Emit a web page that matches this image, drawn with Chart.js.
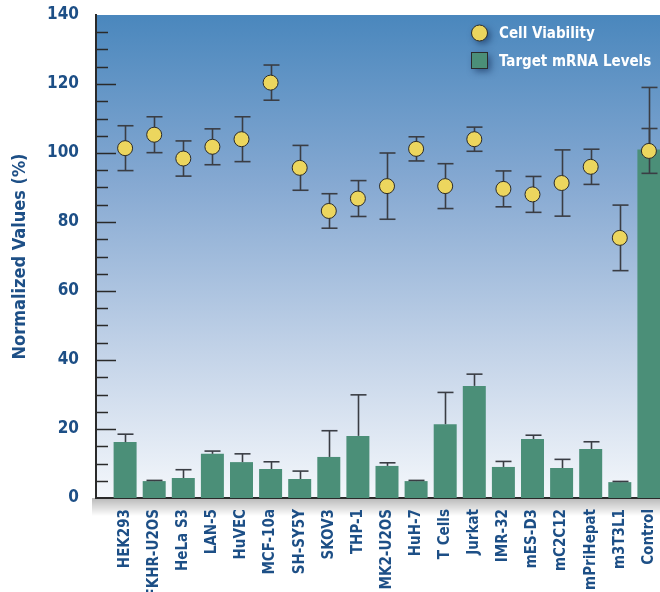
<!DOCTYPE html>
<html>
<head>
<meta charset="utf-8">
<script src="https://cdn.jsdelivr.net/npm/chart.js@4.4.1/dist/chart.umd.min.js"></script>
<style>
  html, body { margin: 0; padding: 0; background: #fff; }
  #wrap { width: 660px; height: 592px; overflow: hidden; position: relative; }
  canvas { display: block; }
</style>
</head>
<body>
<div id="wrap"><canvas id="cellChart" width="690" height="592"></canvas></div>
<script>
const categories = [
  'HEK293', 'FKHR-U2OS', 'HeLa S3', 'LAN-5', 'HuVEC', 'MCF-10a', 'SH-SY5Y',
  'SKOV3', 'THP-1', 'MK2-U2OS', 'HuH-7', 'T Cells', 'Jurkat', 'IMR-32',
  'mES-D3', 'mC2C12', 'mPriHepat', 'm3T3L1', 'Control'
];
const cellViability = [101.4, 105.3, 98.4, 101.8, 104.0, 120.4, 95.7, 83.2, 86.8, 90.4,
  101.2, 90.4, 104.0, 89.6, 88.0, 91.3, 96.0, 75.4, 100.6];
const viabilityError = [6.5, 5.2, 5.1, 5.2, 6.5, 5.1, 6.5, 5.0, 5.2, 9.6,
  3.5, 6.5, 3.5, 5.2, 5.2, 9.6, 5.1, 9.5, 6.5];
const mrnaLevels = [16.2, 4.9, 5.8, 12.8, 10.4, 8.4, 5.5, 11.9, 18.0, 9.3,
  4.9, 21.4, 32.5, 9.0, 17.1, 8.7, 14.2, 4.6, 101];
const mrnaError = [2.3, 0.2, 2.4, 0.8, 2.4, 2.1, 2.3, 7.6, 11.9, 0.9,
  0.2, 9.2, 3.4, 1.6, 1.1, 2.5, 2.1, 0.2, 18];
const yTicks = [0, 20, 40, 60, 80, 100, 120, 140];

const FONT = '"Liberation Sans Narrow", "DejaVu Sans Condensed", "Roboto", sans-serif';
const BLUE = '#1d4f86';

// blank slot at each end so the categories sit where the original puts them
const labels = [''].concat(categories, ['']);
const pad = arr => [null].concat(arr, [null]);

const backdrop = {
  id: 'backdrop',
  beforeDraw(chart) {
    const { ctx, chartArea: a } = chart;
    const g = ctx.createLinearGradient(0, a.top, 0, a.bottom);
    g.addColorStop(0, '#4a87bd');
    g.addColorStop(0.35, '#86a9d2');
    g.addColorStop(0.7, '#c3d3e8');
    g.addColorStop(1, '#f4f7fb');
    ctx.save();
    ctx.fillStyle = g;
    ctx.fillRect(a.left, a.top, a.right - a.left, a.bottom - a.top);
    // soft shadow under the x axis
    const s = ctx.createLinearGradient(0, a.bottom, 0, a.bottom + 18);
    s.addColorStop(0, 'rgba(0,0,0,0.28)');
    s.addColorStop(1, 'rgba(0,0,0,0)');
    ctx.fillStyle = s;
    ctx.fillRect(a.left - 4, a.bottom, a.right - a.left + 4, 18);
    ctx.restore();
  },
  afterDraw(chart) {
    const { ctx, chartArea: a } = chart;
    const y = chart.scales.y;
    ctx.save();
    ctx.strokeStyle = '#2a2a2a';
    ctx.lineWidth = 1.5;
    for (let v = 5; v < 140; v += 5) {
      const py = Math.round(y.getPixelForValue(v)) + 0.5;
      const len = v % 20 === 0 ? 20 : 12;
      ctx.beginPath();
      ctx.moveTo(a.left, py);
      ctx.lineTo(a.left + len, py);
      ctx.stroke();
    }
    ctx.restore();
  }
};

const errorBars = {
  id: 'errorBars',
  afterDatasetDraw(chart, args) {
    if (args.index !== 1) return;
    const { ctx } = chart;
    const x = chart.scales.x, y = chart.scales.y;
    ctx.save();
    ctx.lineWidth = 1.6;
    ctx.strokeStyle = '#3a3d44';
    const cap = 8;
    const seg = (px, y1, y2) => {
      ctx.beginPath();
      ctx.moveTo(px, y1); ctx.lineTo(px, y2);
      ctx.stroke();
    };
    const capAt = (px, py) => {
      ctx.beginPath();
      ctx.moveTo(px - cap, py); ctx.lineTo(px + cap, py);
      ctx.stroke();
    };
    categories.forEach((c, i) => {
      const px = Math.round(x.getPixelForValue(i + 1)) + 0.5;
      const top = y.getPixelForValue(mrnaLevels[i] + mrnaError[i]);
      seg(px, y.getPixelForValue(mrnaLevels[i]), top);
      capAt(px, top);
    });
    categories.forEach((c, i) => {
      const px = Math.round(x.getPixelForValue(i + 1)) + 0.5;
      const hi = y.getPixelForValue(cellViability[i] + viabilityError[i]);
      const lo = y.getPixelForValue(cellViability[i] - viabilityError[i]);
      seg(px, lo, hi);
      capAt(px, hi);
      capAt(px, lo);
    });
    ctx.restore();
  }
};

const legendBox = {
  id: 'legendBox',
  afterDraw(chart) {
    const { ctx } = chart;
    ctx.save();
    ctx.shadowColor = 'rgba(10,30,70,0.55)';
    ctx.shadowBlur = 7;
    ctx.shadowOffsetX = 3;
    ctx.shadowOffsetY = 3;
    ctx.fillStyle = '#ecd65e';
    ctx.strokeStyle = '#2b2b2b';
    ctx.lineWidth = 1;
    ctx.beginPath();
    ctx.arc(479.5, 33, 8, 0, Math.PI * 2);
    ctx.fill();
    ctx.shadowColor = 'transparent';
    ctx.stroke();
    ctx.shadowColor = 'rgba(10,30,70,0.55)';
    ctx.fillStyle = '#4b8f78';
    ctx.fillRect(471.5, 52.5, 16, 16);
    ctx.shadowColor = 'transparent';
    ctx.strokeRect(471.5, 52.5, 16, 16);
    ctx.fillStyle = '#ffffff';
    ctx.font = 'bold 15px ' + FONT;
    ctx.textBaseline = 'middle';
    ctx.fillText('Cell Viability', 499, 34);
    ctx.fillText('Target mRNA Levels', 499, 62);
    ctx.restore();
  }
};

new Chart(document.getElementById('cellChart'), {
  data: {
    labels: labels,
    datasets: [{
      type: 'line',
      label: 'Cell Viability',
      data: pad(cellViability),
      showLine: false,
      pointRadius: 7.5,
      pointHoverRadius: 7.5,
      pointBackgroundColor: '#ecd65e',
      pointBorderColor: '#2b2b2b',
      pointBorderWidth: 1,
      order: 1
    }, {
      type: 'bar',
      label: 'Target mRNA Levels',
      data: pad(mrnaLevels),
      backgroundColor: '#4b8f78',
      borderWidth: 0,
      barPercentage: 0.79,
      categoryPercentage: 1,
      order: 2
    }]
  },
  options: {
    responsive: false,
    animation: false,
    layout: { padding: { top: 15, right: 12, left: 0, bottom: 0 } },
    plugins: {
      legend: { display: false },
      tooltip: { enabled: false }
    },
    scales: {
      x: {
        offset: false,
        grid: { display: false },
        border: { display: true, color: '#2a2a2a', width: 2 },
        ticks: {
          autoSkip: false,
          maxRotation: 90,
          minRotation: 90,
          padding: 3,
          color: BLUE,
          font: { family: FONT, size: 15, weight: 'bold' }
        },
        afterFit(scale) {
          scale.height = 94;
          scale.paddingLeft = 0;
          scale.paddingRight = 0;
        }
      },
      y: {
        min: 0,
        max: 140,
        afterBuildTicks(scale) {
          scale.ticks = yTicks.map(v => ({ value: v }));
        },
        grid: { display: false },
        border: { display: true, color: '#2a2a2a', width: 2 },
        ticks: {
          padding: 9,
          color: BLUE,
          font: { family: FONT, size: 17, weight: 'bold' }
        },
        title: {
          display: true,
          text: 'Normalized Values (%)',
          color: BLUE,
          padding: { top: 10, bottom: 0 },
          font: { family: FONT, size: 18, weight: 'bold' }
        },
        afterFit(scale) {
          scale.width = 96;
          scale.paddingTop = 0;
          scale.paddingBottom = 0;
        }
      }
    }
  },
  plugins: [backdrop, errorBars, legendBox]
});
</script>
</body>
</html>
